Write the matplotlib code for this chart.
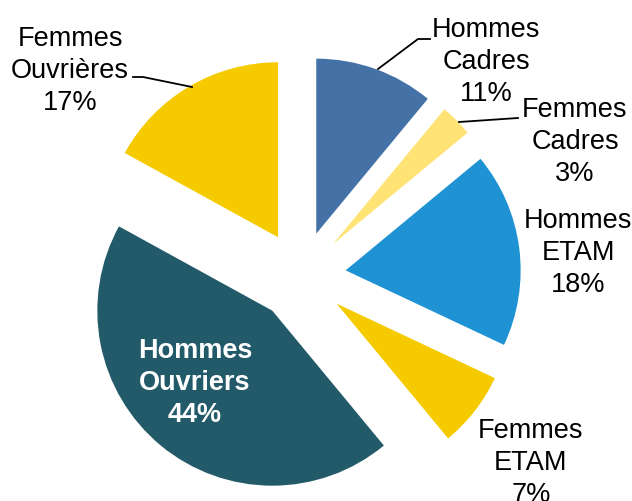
import matplotlib.pyplot as plt

# data (clockwise from 12 o'clock)
categories = ["Hommes\nCadres", "Femmes\nCadres", "Hommes\nETAM",
              "Femmes\nETAM", "Hommes\nOuvriers", "Femmes\nOuvrières"]
shares = [11, 3, 18, 7, 44, 17]
colors = ["#4472A6", "#FFE375", "#1E92D2", "#F5CB00", "#225A69", "#F5CB00"]

plt.rcParams["font.family"] = ["Liberation Sans", "DejaVu Sans"]

W, H = 632, 502
fig = plt.figure(figsize=(W / 100, H / 100), dpi=100)
ax = fig.add_axes([0, 0, 1, 1])

# pie in pixel coords (y measured from bottom); explode is in data units
ax.pie(shares, colors=colors, startangle=90, counterclock=False,
       radius=175, center=(301, H - 277), explode=[45] * len(shares),
       wedgeprops=dict(linewidth=0), frame=True)
ax.set_xlim(0, W)
ax.set_ylim(0, H)
ax.set_aspect("equal")
ax.axis("off")

# label layout (pixel positions, y from top)
label_pos = [(486, 62), (575, 142), (578, 253), (531, 463), (195, 383), (70, 71)]
for i, (cat, val, (x, y)) in enumerate(zip(categories, shares, label_pos)):
    txt = f"{cat}\n{val}%"
    bold = i == 4
    ax.text(x, H - y, txt, ha="center", va="center", fontsize=19.5,
            color="white" if bold else "black",
            fontweight="bold" if bold else "normal", linespacing=1.28)

# leader lines
leaders = [
    [(378, 70), (418, 40), (430, 40)],
    [(459, 123), (518, 119)],
    [(192, 88), (143, 78), (133, 78)],
]
for pts in leaders:
    xs = [p[0] for p in pts]
    ys = [H - p[1] for p in pts]
    ax.plot(xs, ys, color="black", lw=1.3)

fig.savefig("out.png", dpi=100)
